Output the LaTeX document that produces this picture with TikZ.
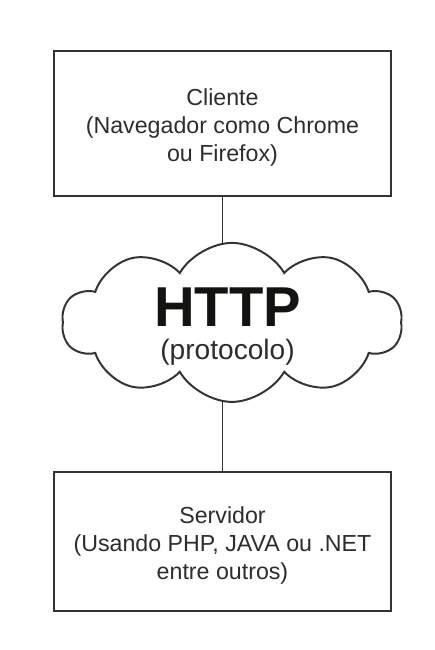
\documentclass[tikz,border=0pt]{standalone}
\usepackage{fontspec}
\setmainfont{Liberation Sans}
\usetikzlibrary{positioning,shapes,backgrounds}
\definecolor{boxgray}{RGB}{51,51,51}
\definecolor{textgray}{RGB}{45,45,45}
\definecolor{titleblack}{RGB}{17,20,17}

\begin{document}
\begin{tikzpicture}[node distance=1.2cm]
    \useasboundingbox (0,0) rectangle (10.85,16.25);
    \tikzset{
        tierbox/.style={draw=boxgray,line width=1.4pt,rectangle,minimum width=8.425cm,fill=white,text=textgray,align=center,font=\fontsize{16.5}{19.8}\selectfont},
        link/.style={draw=boxgray,line width=1.4pt}
    }

    % Client
    \node[tierbox,minimum height=3.625cm] (client) at (5.5625,13.1625) {
        \rule{0pt}{18pt}Cliente\\
        (Navegador como Chrome\\
        ou Firefox)
    };

    % Protocol cloud
    \node[cloud,cloud puffs=10,cloud puff arc=120,cloud ignores aspect,draw=boxgray,line width=1.4pt,fill=white,
          minimum width=8.5cm,minimum height=3.975cm,inner sep=0pt,
          font=\fontsize{20}{23}\selectfont] (http) at (5.8,8.19) {
        \makebox[0pt]{\kern-6.4pt\raisebox{-9.5pt}[0pt][0pt]{\begin{tabular}{@{}c@{}}
            {\color{titleblack}\fontsize{40}{40}\selectfont\bfseries HTTP}\\
            {\color{textgray}(protocolo)}
        \end{tabular}}}
    };

    % Server
    \node[tierbox,minimum height=3.475cm] (server) at (5.5625,2.7125) {
        \rule{0pt}{18pt}Servidor\\
        (Usando PHP, JAVA ou .NET\\
        entre outros)
    };

    % Links
    \begin{scope}[on background layer]
        \draw[link] (client.south) -- (client.south |- http.center);
        \draw[link] (server.north) -- (server.north |- http.center);
    \end{scope}
\end{tikzpicture}
\end{document}
